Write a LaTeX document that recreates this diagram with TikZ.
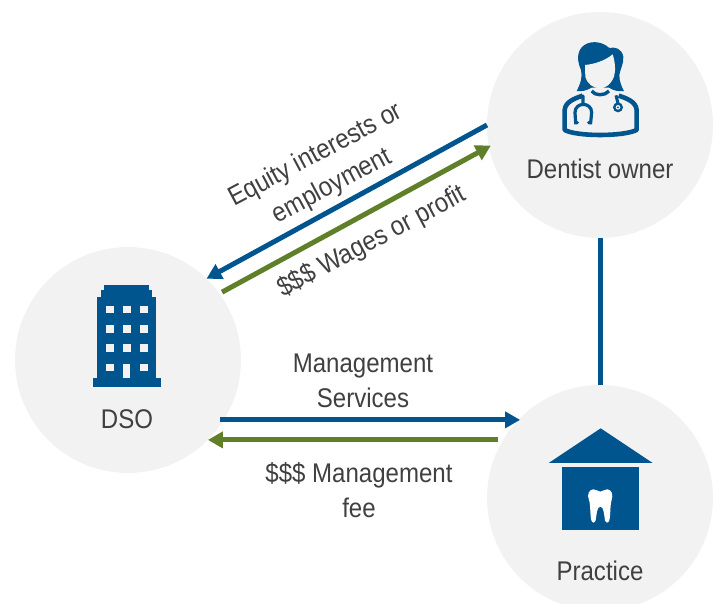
\documentclass[tikz,border=0pt]{standalone}
\usepackage{fontspec}
\setmainfont{Liberation Sans}[FakeStretch=0.89]
\usetikzlibrary{arrows.meta}
\definecolor{disc}{HTML}{F2F2F2}
\definecolor{navy}{HTML}{00558F}
\definecolor{leaf}{HTML}{5F7F28}
\definecolor{ink}{HTML}{404040}
\tikzset{
  disc/.style={circle,fill=disc,draw=none,minimum size=226pt,inner sep=0pt,outer sep=0pt},
  lbl/.style={text=ink,font=\fontsize{27}{35}\selectfont,align=center,inner sep=0pt},
  bluearrow/.style={draw=navy,line width=5pt,-{Triangle[length=15pt,width=16pt]}},
  greenarrow/.style={draw=leaf,line width=5pt,-{Triangle[length=15pt,width=16pt]}},
  link/.style={draw=navy,line width=5pt},
  icon/.style={x=0.3333pt,y=-0.3333pt}
}
\begin{document}
\begin{tikzpicture}[x=1pt,y=-1pt]
\useasboundingbox (0,0) rectangle (713,604);
\begin{scope}
\clip (0,0) rectangle (713,604);
\node[disc] (dentist) at (600,125) {};
\node[disc] (dso) at (128,360) {};
\node[disc] (practice) at (600,498) {};
\end{scope}

% connectors
\draw[link] (dentist.south) -- (practice.north);
\draw[bluearrow] (dentist.180) -- (dso.46);
\draw[greenarrow,shorten <=3pt,shorten >=-2pt] (dso.36) -- (dentist.191);
\draw[bluearrow,shorten <=-3.5pt] (dso.-32) -- (practice.135 |- dso.-32);
\draw[greenarrow,shorten <=4pt] (practice.150 |- dso.-45) -- (dso.-45);

% labels
\node[lbl] (ldentist) at (600,169) {Dentist owner};
\node[lbl] (ldso) at (127,419) {DSO};
\node[lbl] (lpractice) at (600,571) {Practice};
\node[lbl,rotate=28] (lequity) at (324,171) {Equity interests or\\employment};
\node[lbl,rotate=28] (lwages) at (372,242) {\$\$\$ Wages or profit};
\node[lbl] (lmgmt) at (363,381) {Management\\Services};
\node[lbl] (lfee) at (359,490) {\$\$\$ Management\\fee};

% doctor icon
\begin{scope}[shift={(540,20)},icon]
  \fill[navy] (110,213) .. controls (122,190) and (128,170) .. (123,150)
    .. controls (112,125) and (110,100) .. (125,82)
    .. controls (145,60) and (185,62) .. (208,84)
    .. controls (225,80) and (245,85) .. (250,110)
    .. controls (252,130) and (240,150) .. (238,165)
    .. controls (238,185) and (245,200) .. (252,213)
    .. controls (235,215) and (220,212) .. (207,203)
    -- (155,203) .. controls (140,212) and (125,215) .. (110,213) -- cycle;
  \fill[disc] (135,135) .. controls (165,132) and (195,122) .. (218,103)
    .. controls (225,125) and (228,150) .. (222,170)
    .. controls (212,195) and (195,205) .. (180,205)
    .. controls (160,205) and (142,192) .. (136,170) -- cycle;
  \draw[navy,line width=4.6pt,line join=round]
    (128,227) .. controls (105,235) and (76,245) .. (74,270)
    -- (74,330) .. controls (110,350) and (250,350) .. (290,330)
    -- (290,270) .. controls (288,245) and (260,235) .. (236,227);
  \draw[navy,line width=3.4pt] (155,213) .. controls (165,228) and (195,228) .. (207,213);
  \draw[navy,line width=3.2pt,line cap=round]
    (129,228) -- (129,252)
    (112,308) -- (107,308) -- (105,278) .. controls (105,245) and (155,245) .. (155,278) -- (152,308) -- (146,308);
  \draw[navy,line width=3pt] (228,226) -- (234,250);
  \fill[navy] (234,262) circle[radius=15];
  \fill[disc] (234,262) circle[radius=7];
  \fill[navy] (234,262) circle[radius=3];
\end{scope}

% building icon
\begin{scope}[shift={(80,270)},icon]
  \fill[navy] (73,45) rectangle (206,60);
  \fill[navy] (62,60) rectangle (217,82);
  \fill[navy] (52,82) rectangle (228,325);
  \fill[navy] (38,325) rectangle (242,350);
  \foreach \wx in {78,129,180}
    \foreach \wy in {107,165,223}
      \fill[disc] (\wx,\wy) rectangle ++(23,23);
  \fill[disc] (78,281) rectangle ++(23,23);
  \fill[disc] (180,281) rectangle ++(23,23);
  \fill[disc] (129,281) rectangle (151,325);
\end{scope}

% practice icon
\begin{scope}[shift={(530,415)},icon]
  \fill[navy] (212,40) -- (368,144) -- (56,144) -- cycle;
  \fill[navy] (97,157) rectangle (328,345);
  \fill[white] (190,223) .. controls (200,223) and (205,230) .. (211,230)
    .. controls (217,230) and (222,223) .. (232,223)
    .. controls (245,223) and (250,240) .. (245,255)
    .. controls (240,270) and (242,300) .. (238,316)
    .. controls (235,325) and (228,325) .. (225,316)
    .. controls (222,300) and (222,275) .. (211,275)
    .. controls (200,275) and (200,300) .. (197,316)
    .. controls (194,325) and (187,325) .. (184,316)
    .. controls (180,300) and (182,270) .. (177,255)
    .. controls (170,240) and (177,223) .. (190,223) -- cycle;
\end{scope}
\end{tikzpicture}
\end{document}
